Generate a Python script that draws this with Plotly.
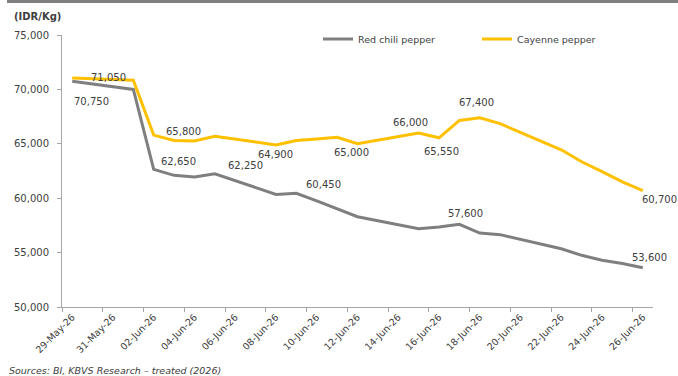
import plotly.graph_objects as go
import pandas as pd

# ---- data ----
dates = pd.date_range("2026-05-29", "2026-06-26").strftime("%d-%b-%y").tolist()
red_chili = [70750, None, None, 70000, 62650, 62100, 61950, 62250, None, None,
             60350, 60450, 59750, 59050, 58300, None, None, 57200, 57350, 57600,
             56800, 56650, None, None, 55350, 54750, 54300, 54000, 53600]
cayenne = [71050, None, None, 70850, 65800, 65300, 65250, 65700, None, None,
           64900, 65300, 65450, 65600, 65000, None, None, 66000, 65550, 67150,
           67400, 66850, None, None, 64450, 63350, 62450, 61500, 60700]
y_ticks = [50000, 55000, 60000, 65000, 70000, 75000]

# label placements: (index, xanchor, xshift px, yshift px)
red_label_pos = [(0, "left", 0, -20), (4, "left", 5, 8), (7, "left", 11, 8),
                 (11, "left", 8, 9), (19, "center", 6, 11), (28, "center", 7, 10)]
cay_label_pos = [(0, "center", 36, 0), (4, "left", 10, 4), (10, "center", 0, -10),
                 (14, "center", -6, -9), (17, "center", -8, 10), (18, "center", 2, -14),
                 (20, "center", -3, 15), (28, "left", -3, -9)]

W, H = 678, 376
ML, MR, MT, MB = 62, 25, 35, 69
PW, PH = W - ML - MR, H - MT - MB


def px_x(px):
    return (px - ML) / PW


def px_y(py):
    return 1 - (py - MT) / PH


FONT = "DejaVu Sans"
TXT = "#404040"
idx = list(range(len(dates)))

fig = go.Figure()
fig.add_trace(go.Scatter(x=idx, y=red_chili, mode="lines", name="Red chili pepper",
                         line=dict(color="#7F7F7F", width=3), connectgaps=True))
fig.add_trace(go.Scatter(x=idx, y=cayenne, mode="lines", name="Cayenne pepper",
                         line=dict(color="#FFC000", width=3), connectgaps=True))

annotations = []
for series, positions in ((red_chili, red_label_pos), (cayenne, cay_label_pos)):
    for i, xa, xs, ys in positions:
        annotations.append(dict(x=idx[i], y=series[i], xref="x", yref="y",
                                text=f"{series[i]:,}", showarrow=False,
                                xanchor=xa, yanchor="middle", xshift=xs, yshift=ys,
                                font=dict(family=FONT, size=10, color=TXT)))

annotations.append(dict(x=px_x(12), y=px_y(16), xref="paper", yref="paper",
                        text="<b>(IDR/Kg)</b>", showarrow=False, xanchor="left",
                        yanchor="middle", font=dict(family=FONT, size=10, color=TXT)))
annotations.append(dict(x=px_x(7), y=px_y(370), xref="paper", yref="paper",
                        text="<i>Sources: BI, KBVS Research \u2013 treated (2026)</i>",
                        showarrow=False, xanchor="left", yanchor="middle",
                        font=dict(family=FONT, size=9.5, color=TXT)))

fig.update_layout(
    width=W, height=H,
    margin=dict(l=ML, r=MR, t=MT, b=MB, pad=0),
    paper_bgcolor="white", plot_bgcolor="white",
    showlegend=True,
    legend=dict(orientation="h", x=px_x(318), y=px_y(39), xanchor="left", yanchor="middle",
                font=dict(family=FONT, size=9.5, color=TXT), bgcolor="rgba(0,0,0,0)",
                entrywidth=114, entrywidthmode="pixels", tracegroupgap=0),
    annotations=annotations,
    shapes=[dict(type="rect", xref="paper", yref="paper", x0=px_x(7), x1=px_x(W),
                 y0=px_y(3), y1=px_y(0), fillcolor="#808080", line=dict(width=0))],
    xaxis=dict(range=[-0.5, len(dates) - 0.5], tickmode="array", tickvals=idx[::2],
               ticktext=dates[::2], tickangle=-45, ticks="", showgrid=False,
               showline=True, linecolor="#A6A6A6", linewidth=1, zeroline=False,
               tickfont=dict(family=FONT, size=9.5, color=TXT),
               minor=dict(tickmode="linear", tick0=-0.5, dtick=2, ticks="outside",
                          ticklen=4, tickcolor="#A6A6A6", showgrid=False)),
    yaxis=dict(range=[50000, 75000], tickvals=y_ticks, tickformat=",d", ticks="outside",
               ticklen=4, tickcolor="#A6A6A6", showgrid=False, showline=True,
               linecolor="#A6A6A6", linewidth=1, zeroline=False, ticklabelstandoff=6,
               tickfont=dict(family=FONT, size=10, color=TXT)),
)

fig.write_html("out.html", config={"displayModeBar": False},
               post_script="document.body.style.margin='0';document.body.style.overflow='hidden';")
